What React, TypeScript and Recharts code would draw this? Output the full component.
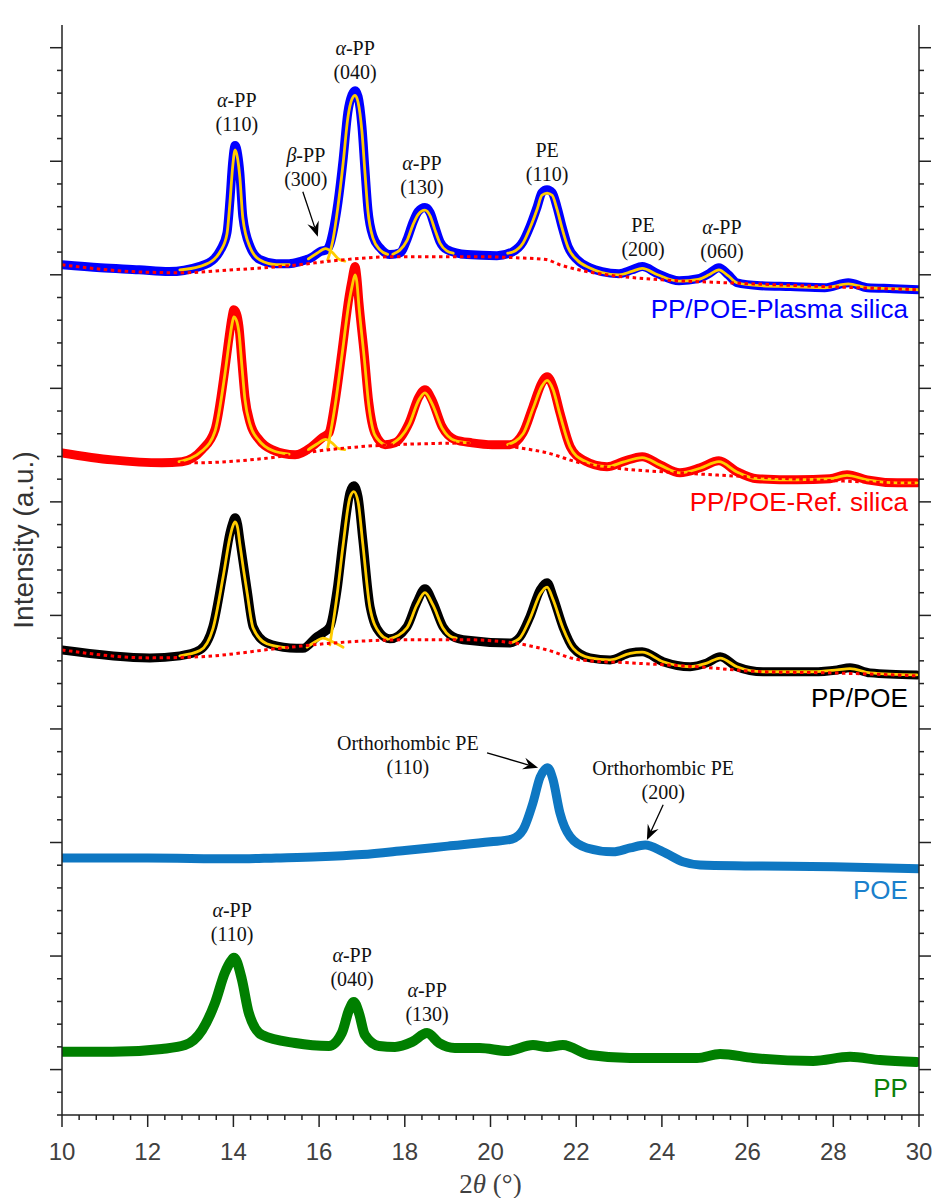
import React from "react";
import { LineChart, Line, XAxis, YAxis, ReferenceDot, ReferenceLine, Label } from "recharts";

type Pt = [number, number];

// PP/POE-Plasma silica (offset stack, intensity in minor-tick units)
const plasmaData: Pt[] = [
  [10.0, 37.44], [10.9, 37.31], [11.8, 37.22], [12.5, 37.14], [13.2, 37.36], [13.55, 37.7], [13.7, 38.1],
  [13.85, 38.85], [13.92, 40.31], [13.98, 41.9], [14.04, 42.69], [14.1, 42.3], [14.15, 41.5], [14.22, 39.56],
  [14.39, 38.24], [14.62, 37.67], [15.0, 37.49], [15.3, 37.49], [15.55, 37.58], [15.86, 37.8], [16.02, 38.02],
  [16.18, 38.11], [16.25, 38.33], [16.32, 38.85], [16.44, 40.18], [16.56, 42.07], [16.67, 44.14], [16.77, 44.93],
  [16.84, 45.11], [16.91, 44.85], [17.0, 43.52], [17.07, 41.63], [17.14, 39.87], [17.26, 38.68], [17.42, 38.19],
  [17.65, 37.89], [17.89, 37.97], [18.05, 38.55], [18.19, 39.3], [18.31, 39.78], [18.47, 39.96], [18.59, 39.74],
  [18.7, 39.12], [18.82, 38.46], [18.98, 38.11], [19.45, 37.89], [20.15, 37.84], [20.52, 38.02], [20.76, 38.46],
  [20.92, 39.12], [21.09, 40.0], [21.2, 40.62], [21.32, 40.75], [21.44, 40.62], [21.55, 40.0], [21.67, 39.12],
  [21.81, 38.24], [22.02, 37.67], [22.32, 37.31], [22.6, 37.14], [23.0, 37.05], [23.3, 37.22], [23.54, 37.36],
  [23.9, 37.05], [24.4, 36.74], [24.85, 36.83], [25.1, 37.05], [25.33, 37.31], [25.55, 37.0], [25.75, 36.65],
  [26.3, 36.52], [27.0, 36.48], [27.8, 36.43], [28.35, 36.65], [28.8, 36.43], [29.4, 36.39], [30.0, 36.34],
];
const plasmaFit110: Pt[] = [
  [12.75, 37.22], [13.2, 37.36], [13.55, 37.68], [13.7, 38.05], [13.85, 38.8], [13.92, 40.2], [13.98, 41.7],
  [14.04, 42.5], [14.1, 42.1], [14.15, 41.3], [14.22, 39.5], [14.39, 38.2], [14.62, 37.65], [15.0, 37.45], [15.3, 37.45],
];
const plasmaFitBeta: Pt[] = [[15.75, 37.7], [15.95, 37.95], [16.15, 38.15], [16.3, 38.0], [16.45, 37.7], [16.6, 37.6]];
const plasmaFit040: Pt[] = [
  [16.2, 37.65], [16.32, 38.5], [16.44, 40.0], [16.56, 41.9], [16.67, 43.9], [16.77, 44.75], [16.84, 44.9],
  [16.91, 44.6], [17.0, 43.3], [17.07, 41.5], [17.14, 39.8], [17.26, 38.6], [17.42, 38.1], [17.6, 37.9],
];
const plasmaFit130: Pt[] = [
  [17.72, 37.9], [18.05, 38.5], [18.19, 39.2], [18.31, 39.65], [18.47, 39.85], [18.59, 39.6], [18.7, 39.0],
  [18.82, 38.4], [18.98, 38.05], [19.13, 37.95],
];
const plasmaFitPE: Pt[] = [
  [20.4, 37.95], [20.52, 38.0], [20.76, 38.4], [20.92, 39.05], [21.09, 39.9], [21.2, 40.5], [21.32, 40.6],
  [21.44, 40.5], [21.55, 39.9], [21.67, 39.05], [21.81, 38.2], [22.02, 37.65], [22.32, 37.3], [22.6, 37.1],
  [23.0, 37.0], [23.3, 37.15], [23.54, 37.28], [23.9, 37.0], [24.4, 36.72], [24.85, 36.8], [25.1, 37.0],
  [25.33, 37.22], [25.55, 36.95], [25.75, 36.65], [26.3, 36.52], [27.0, 36.48], [27.8, 36.43], [28.35, 36.6],
  [28.8, 36.43], [29.4, 36.39], [30.0, 36.34],
];
const plasmaBase: Pt[] = [
  [10.0, 37.44], [11.65, 37.14], [12.75, 37.09], [14.0, 37.22], [15.3, 37.4], [16.62, 37.67], [17.8, 37.8],
  [19.7, 37.8], [20.6, 37.75], [21.3, 37.67], [21.62, 37.44], [22.1, 37.2], [22.4, 37.09], [24.0, 36.78],
  [25.5, 36.65], [27.8, 36.48], [30.0, 36.34],
];

// PP/POE-Ref. silica
const refData: Pt[] = [
  [10.0, 29.16], [11.17, 28.85], [12.33, 28.72], [12.8, 28.77], [13.27, 29.3], [13.57, 30.18], [13.8, 32.82],
  [13.9, 34.27], [13.97, 35.15], [14.01, 35.46], [14.07, 35.3], [14.13, 34.71], [14.2, 33.13], [14.27, 31.63],
  [14.39, 30.48], [14.6, 29.74], [14.9, 29.3], [15.44, 29.07], [15.83, 29.43], [16.07, 29.82], [16.23, 30.04],
  [16.37, 31.37], [16.53, 33.57], [16.7, 36.04], [16.77, 36.78], [16.84, 37.36], [16.88, 36.9], [16.93, 35.77],
  [17.05, 33.57], [17.16, 31.37], [17.3, 30.04], [17.54, 29.52], [17.77, 29.6], [18.1, 30.48], [18.33, 31.63],
  [18.47, 31.94], [18.63, 31.5], [18.87, 30.31], [19.17, 29.74], [19.57, 29.6], [20.04, 29.52], [20.45, 29.52],
  [20.76, 30.04], [20.99, 31.19], [21.2, 32.25], [21.32, 32.51], [21.46, 32.07], [21.62, 30.93], [21.86, 29.43],
  [22.16, 28.85], [22.72, 28.55], [23.09, 28.77], [23.54, 28.99], [23.96, 28.63], [24.42, 28.28], [24.89, 28.5],
  [25.33, 28.81], [25.75, 28.33], [26.22, 28.02], [27.15, 27.97], [27.92, 28.02], [28.32, 28.19], [28.79, 27.97],
  [29.49, 27.84], [29.95, 27.84],
];
const refFit110: Pt[] = [
  [12.73, 28.77], [13.27, 29.25], [13.57, 30.1], [13.8, 32.6], [13.9, 34.0], [13.97, 34.85], [14.01, 35.15],
  [14.07, 35.0], [14.13, 34.45], [14.2, 32.95], [14.27, 31.5], [14.39, 30.4], [14.6, 29.7], [14.9, 29.27], [15.3, 29.1],
];
const refFitBeta: Pt[] = [[15.75, 29.3], [15.95, 29.55], [16.15, 29.75], [16.3, 29.6], [16.45, 29.35], [16.6, 29.3]];
const refFit040: Pt[] = [
  [16.2, 29.35], [16.37, 31.2], [16.53, 33.4], [16.7, 35.8], [16.77, 36.5], [16.84, 37.0], [16.88, 36.7],
  [16.93, 35.6], [17.05, 33.4], [17.16, 31.25], [17.3, 29.95], [17.54, 29.5],
];
const refFit130: Pt[] = [
  [17.7, 29.55], [18.1, 30.4], [18.33, 31.5], [18.47, 31.8], [18.63, 31.35], [18.87, 30.25], [19.17, 29.7], [19.5, 29.6],
];
const refFitPE: Pt[] = [
  [20.4, 29.52], [20.76, 30.0], [20.99, 31.1], [21.2, 32.1], [21.32, 32.35], [21.46, 31.95], [21.62, 30.85],
  [21.86, 29.4], [22.16, 28.83], [22.72, 28.55], [23.09, 28.75], [23.54, 28.95], [23.96, 28.62], [24.42, 28.28],
  [24.89, 28.48], [25.33, 28.77], [25.75, 28.32], [26.22, 28.02], [27.15, 27.97], [27.92, 28.02], [28.32, 28.17],
  [28.79, 27.97], [29.49, 27.84], [29.95, 27.84],
];
const refBase: Pt[] = [
  [10.0, 29.16], [11.2, 28.85], [12.3, 28.72], [13.1, 28.72], [14.67, 28.9], [16.23, 29.3], [17.77, 29.52],
  [20.04, 29.6], [20.52, 29.43], [21.32, 29.16], [22.09, 28.72], [22.86, 28.5], [24.42, 28.28], [25.99, 28.11],
  [27.53, 27.97], [29.86, 27.84], [30.0, 27.84],
];

// PP/POE
const blendData: Pt[] = [
  [10.0, 20.48], [12.05, 20.13], [12.75, 20.22], [13.22, 20.48], [13.52, 21.5], [13.76, 23.88], [13.92, 25.64],
  [13.98, 26.05], [14.04, 26.3], [14.1, 26.0], [14.15, 25.33], [14.32, 23.13], [14.46, 21.5], [14.78, 20.79],
  [15.32, 20.57], [15.62, 20.55], [15.95, 21.06], [16.09, 21.23], [16.25, 21.5], [16.42, 23.13], [16.56, 25.33],
  [16.72, 27.4], [16.81, 27.71], [16.91, 27.22], [17.02, 25.33], [17.19, 22.38], [17.42, 21.23], [17.65, 20.97],
  [18.05, 21.5], [18.28, 22.56], [18.47, 23.17], [18.66, 22.56], [18.89, 21.5], [19.05, 21.15], [19.36, 20.93],
  [20.46, 20.79], [20.69, 21.06], [20.92, 21.94], [21.16, 23.13], [21.32, 23.44], [21.46, 22.82], [21.69, 21.5],
  [21.93, 20.57], [22.32, 20.13], [22.79, 20.04], [23.26, 20.35], [23.54, 20.4], [24.03, 19.96], [24.66, 19.74],
  [25.05, 19.91], [25.36, 20.18], [25.75, 19.74], [26.36, 19.52], [27.53, 19.52], [28.09, 19.6], [28.39, 19.69],
  [28.86, 19.47], [29.95, 19.38],
];
const blendFit110: Pt[] = [
  [12.75, 20.22], [13.22, 20.45], [13.52, 21.4], [13.76, 23.7], [13.92, 25.45], [13.98, 25.9], [14.04, 26.12],
  [14.1, 25.85], [14.15, 25.15], [14.32, 23.0], [14.46, 21.45], [14.78, 20.75], [15.27, 20.57],
];
const blendFitBeta: Pt[] = [[15.72, 20.6], [15.92, 20.85], [16.09, 21.0], [16.3, 20.85], [16.56, 20.6]];
const blendFit040: Pt[] = [
  [16.25, 20.7], [16.42, 22.9], [16.56, 25.1], [16.72, 27.2], [16.81, 27.45], [16.91, 27.0], [17.02, 25.15],
  [17.19, 22.3], [17.42, 21.2], [17.6, 20.95],
];
const blendFit130: Pt[] = [
  [17.65, 20.97], [18.05, 21.45], [18.28, 22.45], [18.47, 23.0], [18.66, 22.45], [18.89, 21.45], [19.05, 21.1], [19.2, 21.0],
];
const blendFitPE: Pt[] = [
  [20.46, 20.79], [20.69, 21.02], [20.92, 21.85], [21.16, 22.95], [21.32, 23.25], [21.46, 22.7], [21.69, 21.45],
  [21.93, 20.55], [22.32, 20.13], [22.79, 20.04], [23.26, 20.33], [23.54, 20.38], [24.03, 19.96], [24.66, 19.74],
  [25.05, 19.9], [25.36, 20.12], [25.75, 19.74], [26.36, 19.52], [27.53, 19.52], [28.09, 19.6], [28.39, 19.66],
  [28.86, 19.47], [29.95, 19.38],
];
const blendBase: Pt[] = [
  [10.0, 20.48], [12.05, 20.13], [13.22, 20.18], [15.16, 20.57], [16.72, 20.84], [18.28, 20.93], [19.36, 20.93],
  [20.53, 20.79], [21.32, 20.48], [22.09, 20.04], [23.26, 19.91], [24.82, 19.74], [26.36, 19.52], [27.92, 19.47],
  [29.95, 19.34],
];

// POE
const poeData: Pt[] = [
  [10.0, 11.32], [12.0, 11.32], [14.0, 11.28], [15.0, 11.32], [16.0, 11.37], [17.0, 11.47], [18.0, 11.65],
  [19.0, 11.84], [20.0, 12.03], [20.5, 12.15], [20.76, 12.56], [20.99, 13.74], [21.16, 14.89], [21.27, 15.22],
  [21.32, 15.29], [21.38, 15.2], [21.46, 14.76], [21.62, 13.3], [21.86, 12.25], [22.25, 11.76], [22.86, 11.59],
  [23.26, 11.76], [23.61, 11.89], [24.03, 11.59], [24.49, 11.15], [24.89, 11.01], [26.0, 10.97], [28.0, 10.93],
  [30.0, 10.84],
];

// PP
const ppData: Pt[] = [
  [10.0, 2.78], [11.17, 2.78], [12.33, 2.91], [12.87, 3.08], [13.27, 3.74], [13.57, 4.93], [13.8, 6.26],
  [13.95, 6.8], [14.01, 6.92], [14.07, 6.8], [14.2, 5.95], [14.36, 4.49], [14.67, 3.52], [15.44, 3.17],
  [16.23, 3.04], [16.53, 3.61], [16.7, 4.63], [16.81, 4.98], [16.93, 4.49], [17.07, 3.52], [17.4, 3.04],
  [17.77, 3.0], [18.17, 3.22], [18.52, 3.61], [18.8, 3.17], [19.17, 2.95], [19.75, 2.95], [20.39, 2.82],
  [20.99, 3.08], [21.32, 3.0], [21.69, 3.08], [22.32, 2.64], [23.26, 2.51], [24.82, 2.51], [25.36, 2.69],
  [26.13, 2.51], [27.53, 2.38], [28.39, 2.56], [29.09, 2.42], [29.95, 2.33],
];

const xMajorTicks = [10, 12, 14, 16, 18, 20, 22, 24, 26, 28, 30];
const xTicks = Array.from({ length: 51 }, (_, i) => Math.round((10 + i * 0.4) * 10) / 10);
const yTicks = Array.from({ length: 48 }, (_, i) => i);

const annotations = [
  { x: 14.08, y: 44.71, lines: ["α-PP", "(110)"] },
  { x: 15.69, y: 42.29, lines: ["β-PP", "(300)"] },
  { x: 16.84, y: 47.0, lines: ["α-PP", "(040)"] },
  { x: 18.4, y: 41.94, lines: ["α-PP", "(130)"] },
  { x: 21.32, y: 42.51, lines: ["PE", "(110)"] },
  { x: 23.56, y: 39.21, lines: ["PE", "(200)"] },
  { x: 25.4, y: 39.12, lines: ["α-PP", "(060)"] },
  { x: 18.07, y: 16.39, lines: ["Orthorhombic PE", "(110)"] },
  { x: 24.03, y: 15.29, lines: ["Orthorhombic PE", "(200)"] },
  { x: 13.97, y: 9.03, lines: ["α-PP", "(110)"] },
  { x: 16.77, y: 7.05, lines: ["α-PP", "(040)"] },
  { x: 18.52, y: 5.51, lines: ["α-PP", "(130)"] },
];

const arrows = [
  { x1: 15.62, y1: 40.66, x2: 15.97, y2: 38.68 },
  { x1: 19.92, y1: 15.95, x2: 21.11, y2: 15.29 },
  { x1: 24.03, y1: 13.66, x2: 23.65, y2: 12.11 },
];

const seriesLabels = [
  { y: 35.5, text: "PP/POE-Plasma silica", color: "#0000ff" },
  { y: 27.0, text: "PP/POE-Ref. silica", color: "#ff0000" },
  { y: 18.37, text: "PP/POE", color: "#000000" },
  { y: 9.91, text: "POE", color: "#1a80cc" },
  { y: 1.19, text: "PP", color: "#0a800a" },
];

const AXIS = "#222";
const SANS = "'Liberation Sans', Arial, sans-serif";
const SERIF = "'Liberation Serif', 'Times New Roman', serif";
const FIT = "#ffcc00";

const rows = (pts: Pt[]) => pts.map(([x, y]) => ({ x, y }));
const isMajorX = (v: number) => xMajorTicks.some((m) => Math.abs(m - v) < 1e-6);
const isMajorY = (v: number) => (v - 2) % 5 === 0;

function BottomTick(props: any) {
  const { x, y, payload } = props;
  const major = isMajorX(payload.value);
  return (
    <g>
      <line x1={x} x2={x} y1={y} y2={y + (major ? 12 : 5)} stroke={AXIS} strokeWidth={1.5} />
      {major && (
        <text x={x} y={y + 45} textAnchor="middle" fontSize={24} fill="#404040" fontFamily={SANS}>
          {payload.value}
        </text>
      )}
    </g>
  );
}
function TopTick(props: any) {
  const { x, y, payload } = props;
  const major = isMajorX(payload.value);
  return <line x1={x} x2={x} y1={y} y2={y - (major ? 12 : 5)} stroke={AXIS} strokeWidth={1.5} />;
}
function LeftTick(props: any) {
  const { x, y, payload } = props;
  const major = isMajorY(payload.value);
  return <line x1={x} x2={x - (major ? 12 : 5)} y1={y} y2={y} stroke={AXIS} strokeWidth={1.5} />;
}
function RightTick(props: any) {
  const { x, y, payload } = props;
  const major = isMajorY(payload.value);
  return <line x1={x} x2={x + (major ? 12 : 5)} y1={y} y2={y} stroke={AXIS} strokeWidth={1.5} />;
}

function AnnotText({ cx, cy, lines }: any) {
  return (
    <g>
      {lines.map((ln: string, i: number) => {
        const greek = ln[0] === "α" || ln[0] === "β";
        return (
          <text key={i} x={cx} y={cy + i * 24} textAnchor="middle" dominantBaseline="central" fontSize={20} fontFamily={SERIF} fill="#111">
            {greek ? (
              <>
                <tspan fontStyle="italic">{ln[0]}</tspan>
                <tspan>{ln.slice(1)}</tspan>
              </>
            ) : (
              ln
            )}
          </text>
        );
      })}
    </g>
  );
}

function ArrowShape(p: any) {
  const { x1, y1, x2, y2 } = p;
  const a = Math.atan2(y2 - y1, x2 - x1);
  const L = 15;
  const W = 6;
  const c = Math.cos(a);
  const s = Math.sin(a);
  const bx = x2 - L * c;
  const by = y2 - L * s;
  const nx = x2 - 0.65 * L * c;
  const ny = y2 - 0.65 * L * s;
  const pts = `${x2},${y2} ${bx - W * s},${by + W * c} ${nx},${ny} ${bx + W * s},${by - W * c}`;
  return (
    <g>
      <line x1={x1} y1={y1} x2={nx} y2={ny} stroke="#000" strokeWidth={1.3} />
      <polygon points={pts} fill="#000" />
    </g>
  );
}

function dataLine(pts: Pt[], color: string, width: number, key: string) {
  return (
    <Line
      key={key}
      data={rows(pts)}
      dataKey="y"
      type="monotone"
      stroke={color}
      strokeWidth={width}
      strokeLinecap="round"
      strokeLinejoin="round"
      dot={false}
      activeDot={false}
      isAnimationActive={false}
    />
  );
}
function fitLine(pts: Pt[], key: string) {
  return dataLine(pts, FIT, 2.8, key);
}
function baseLine(pts: Pt[], key: string) {
  return (
    <Line
      key={key}
      data={rows(pts)}
      dataKey="y"
      type="monotone"
      stroke="#ff0000"
      strokeWidth={3}
      strokeDasharray="3.5 3.5"
      dot={false}
      activeDot={false}
      isAnimationActive={false}
    />
  );
}

export default function App() {
  return (
    <div style={{ position: "absolute", left: 0, top: 0, background: "#fff" }}>
      <LineChart width={932} height={1198} margin={{ top: 25, right: 0, bottom: 0, left: 0 }}>
        <XAxis
          dataKey="x"
          type="number"
          domain={[10, 30]}
          ticks={xTicks}
          interval={0}
          tickSize={0}
          tickMargin={0}
          tickLine={false}
          tick={<BottomTick />}
          height={83}
          axisLine={{ stroke: AXIS, strokeWidth: 1.5 }}
          allowDataOverflow
        >
          <Label
            content={(p: any) => {
              const vb = p.viewBox;
              return (
                <text x={vb.x + vb.width / 2} y={vb.y + 78} textAnchor="middle" fontSize={27} fontFamily={SERIF} fill="#404040">
                  2<tspan fontStyle="italic">θ</tspan> (°)
                </text>
              );
            }}
          />
        </XAxis>
        <XAxis
          xAxisId="top"
          orientation="top"
          dataKey="x"
          type="number"
          domain={[10, 30]}
          ticks={xTicks}
          interval={0}
          tickSize={0}
          tickMargin={0}
          tickLine={false}
          tick={<TopTick />}
          height={0}
          axisLine={{ stroke: AXIS, strokeWidth: 1.5 }}
          allowDataOverflow
        />
        <YAxis
          type="number"
          domain={[0, 48]}
          ticks={yTicks}
          interval={0}
          tickSize={0}
          tickMargin={0}
          tickLine={false}
          tick={<LeftTick />}
          width={62}
          axisLine={{ stroke: AXIS, strokeWidth: 1.5 }}
          allowDataOverflow
        >
          <Label
            content={(p: any) => {
              const vb = p.viewBox;
              const cx = vb.x + 23;
              const cy = 540;
              return (
                <text
                  x={cx}
                  y={cy}
                  transform={`rotate(-90 ${cx} ${cy})`}
                  textAnchor="middle"
                  dominantBaseline="central"
                  fontSize={28}
                  fontFamily={SANS}
                  fill="#333"
                >
                  Intensity (a.u.)
                </text>
              );
            }}
          />
        </YAxis>
        <YAxis
          yAxisId="right"
          orientation="right"
          type="number"
          domain={[0, 48]}
          ticks={yTicks}
          interval={0}
          tickSize={0}
          tickMargin={0}
          tickLine={false}
          tick={<RightTick />}
          width={13}
          axisLine={{ stroke: AXIS, strokeWidth: 1.5 }}
          allowDataOverflow
        />

        {dataLine(plasmaData, "#0000ff", 9, "pd")}
        {fitLine(plasmaFit110, "pf1")}
        {fitLine(plasmaFitBeta, "pf2")}
        {fitLine(plasmaFit040, "pf3")}
        {fitLine(plasmaFit130, "pf4")}
        {fitLine(plasmaFitPE, "pf5")}
        {baseLine(plasmaBase, "pb")}

        {dataLine(refData, "#ff0000", 9, "rd")}
        {fitLine(refFit110, "rf1")}
        {fitLine(refFitBeta, "rf2")}
        {fitLine(refFit040, "rf3")}
        {fitLine(refFit130, "rf4")}
        {fitLine(refFitPE, "rf5")}
        {baseLine(refBase, "rb")}

        {dataLine(blendData, "#000000", 9, "bd")}
        {fitLine(blendFit110, "bf1")}
        {fitLine(blendFitBeta, "bf2")}
        {fitLine(blendFit040, "bf3")}
        {fitLine(blendFit130, "bf4")}
        {fitLine(blendFitPE, "bf5")}
        {baseLine(blendBase, "bb")}

        {dataLine(poeData, "#0e77c2", 9, "poe")}
        {dataLine(ppData, "#007f00", 10, "pp")}

        {annotations.map((a, i) => (
          <ReferenceDot
            key={`an${i}`}
            x={a.x}
            y={a.y}
            r={0}
            ifOverflow="visible"
            shape={(p: any) => <AnnotText cx={p.cx} cy={p.cy} lines={a.lines} />}
          />
        ))}
        {arrows.map((a, i) => (
          <ReferenceLine
            key={`ar${i}`}
            segment={[
              { x: a.x1, y: a.y1 },
              { x: a.x2, y: a.y2 },
            ]}
            ifOverflow="visible"
            shape={(p: any) => <ArrowShape {...p} />}
          />
        ))}
        {seriesLabels.map((s, i) => (
          <ReferenceDot
            key={`sl${i}`}
            x={29.74}
            y={s.y}
            r={0}
            ifOverflow="visible"
            shape={(p: any) => (
              <text x={p.cx} y={p.cy} textAnchor="end" dominantBaseline="central" fontSize={26} fontFamily={SANS} fill={s.color}>
                {s.text}
              </text>
            )}
          />
        ))}
      </LineChart>
    </div>
  );
}
